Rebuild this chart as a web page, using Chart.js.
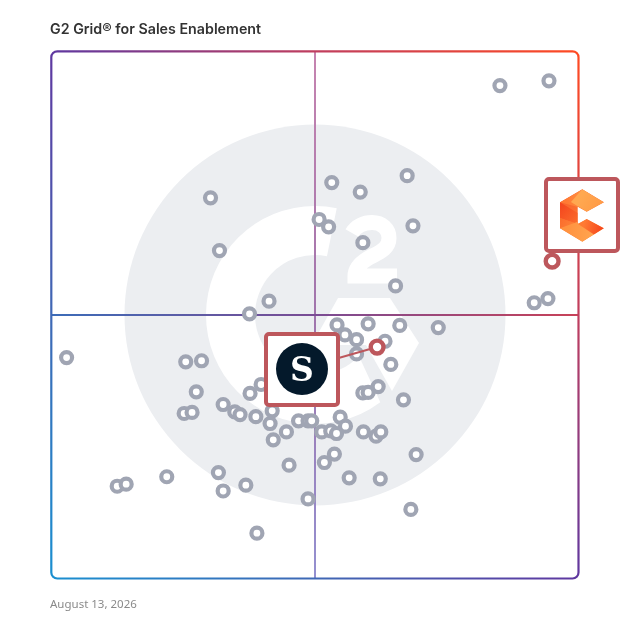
<!DOCTYPE html>
<html>
<head>
<meta charset="utf-8">
<style>
html,body{margin:0;padding:0;background:#fff;width:628px;height:628px;overflow:hidden}
#wrap{position:absolute;left:0;top:0;width:628px;height:628px}
#title{position:absolute;left:50px;top:20px;font:600 14.25px Inter,sans-serif;color:#333;white-space:nowrap}
#date{position:absolute;left:50px;top:596px;font:400 11.5px "Noto Sans",sans-serif;color:#8a8a8a;white-space:nowrap}
</style>
<script src="https://cdn.jsdelivr.net/npm/chart.js@4"></script>
</head>
<body>
<div id="wrap"><canvas id="c" width="628" height="628"></canvas></div>
<div id="title">G2 Grid® for Sales Enablement</div>
<div id="date">August 13, 2026</div>
<script>
const titleText = "G2 Grid® for Sales Enablement";
const dateText = "August 13, 2026";
const satisfaction = [30.2,31.9,41.3,37.6,85.1,94.4,53.2,58.6,67.5,50.8,52.6,68.6,59.1,65.3,91.6,94.2,2.9,25.5,28.5,27.5,25.2,26.7,32.6,34.8,35.8,38.8,37.7,39.8,41.9,41.5,44.6,42.1,46.9,48.7,49.4,45.1,12.5,14.2,21.9,31.7,32.6,36.9,39.0,48.7,54.2,55.7,57.9,60.1,66.1,73.4,63.3,57.9,64.4,59.1,60.1,62.0,66.8,54.8,55.8,51.3,53.0,54.1,59.2,61.6,62.5,69.2,53.7,51.8,56.5,62.4,68.2];
const marketPresence = [72.2,62.2,52.6,50.2,93.5,94.4,75.1,73.3,76.4,68.1,66.7,66.9,63.7,55.5,52.3,53.1,41.9,41.1,41.3,35.4,31.3,31.5,33.0,31.6,31.1,30.7,35.1,36.8,31.8,29.4,27.8,26.3,29.9,29.9,29.9,21.5,17.5,17.9,19.3,20.1,16.6,17.7,8.6,15.1,48.1,46.2,45.3,48.3,48.0,47.6,45.0,42.6,40.6,35.2,35.3,36.4,33.9,30.6,28.9,27.8,28.0,27.5,27.8,27.0,27.8,23.5,23.6,22.0,19.1,18.9,13.1];
const highlightX = [95.0,61.8];
const highlightY = [60.2,43.9];
const axisMin = 0, axisMax = 100, axisMid = 50;

const RED = '#bd575c', GRAY = '#a0a5b3', WM = '#eceef1';
const rad = d => d * Math.PI / 180;

function poly(ctx, pts){ ctx.beginPath(); pts.forEach((p,i)=> i?ctx.lineTo(p[0],p[1]):ctx.moveTo(p[0],p[1])); ctx.closePath(); }

function drawWatermark(ctx){
  const cx = 315, cy = 315;
  ctx.save();
  ctx.fillStyle = WM;
  ctx.beginPath(); ctx.arc(cx,cy,190.5,0,Math.PI*2); ctx.fill();
  ctx.fillStyle = '#fff';
  ctx.beginPath();
  ctx.arc(cx,cy,109,rad(-78.5),rad(53.2),true);
  ctx.arc(cx,cy,60,rad(43),rad(-78.5),false);
  ctx.closePath(); ctx.fill();
  poly(ctx,[[338,298],[390,298],[419,343],[392,391],[366,345],[311.6,345]]); ctx.fill();
  ctx.strokeStyle = '#fff'; ctx.lineWidth = 15; ctx.lineJoin = 'miter';
  ctx.beginPath();
  ctx.moveTo(352,233);
  ctx.bezierCurveTo(356,226,364,222.5,372,222.5);
  ctx.bezierCurveTo(382,222.5,389,229,389,238);
  ctx.bezierCurveTo(389,250,377,253,367,259);
  ctx.bezierCurveTo(359,264,355,270,355,276);
  ctx.lineTo(397,276);
  ctx.stroke();
  ctx.restore();
}

function frameGradient(ctx, a){
  const g = ctx.createLinearGradient(a.left,a.bottom,a.right,a.top);
  g.addColorStop(0,'#1a8fd0');
  g.addColorStop(.25,'#3f68b5');
  g.addColorStop(.5,'#5f38a0');
  g.addColorStop(.75,'#c03e5e');
  g.addColorStop(1,'#ff4a22');
  return g;
}

function box(ctx,x,y,w,h){
  ctx.beginPath(); ctx.roundRect(x,y,w,h,3);
  ctx.fillStyle = '#fff'; ctx.fill();
  ctx.lineWidth = 4; ctx.strokeStyle = RED; ctx.stroke();
}

function drawCLogo(ctx){
  const shape = [[582.3,189.3],[604,202.3],[586.7,211.7],[577.7,206.7],[577.7,224],[586.7,219],[604,228.3],[582.3,241.7],[560,228.3],[560,202.3]];
  ctx.save();
  poly(ctx,shape); ctx.clip();
  const lin = (x0,y0,x1,y1,c0,c1)=>{ const g=ctx.createLinearGradient(x0,y0,x1,y1); g.addColorStop(0,c0); g.addColorStop(1,c1); return g; };
  const f = (c,p)=>{ ctx.fillStyle=c; poly(ctx,p); ctx.fill(); };
  ctx.fillStyle = lin(560,200,582,240,'#f8602a','#ff8a3c'); ctx.fillRect(555,185,55,60);
  f(lin(566,200,590,192,'#ff7a34','#ff9a48'),[[560,202.3],[582.3,189.3],[590,194],[578,207]]);
  f(lin(584,192,604,204,'#ffa850','#ff9a45'),[[582.3,189.3],[604,202.3],[586.7,211.7],[571,202]]);
  f(lin(560,205,578,222,'#f4461e','#fb6c2c'),[[560,202.3],[577.7,213],[577.7,224],[560,218]]);
  f(lin(560,222,578,232,'#fb6e2d','#ff8a3c'),[[560,218],[577.7,224],[578,232],[560,228.3]]);
  f(lin(566,232,592,236,'#ff923f','#ffa44e'),[[560,228.3],[577,222],[596,233],[582.3,241.7]]);
  f(lin(584,224,604,229,'#ff7a33','#f5431c'),[[586.7,219],[604,228.3],[594,234.5],[578,224]]);
  ctx.restore();
}

const overlay = {
  id:'overlay',
  beforeDraw(chart){ drawWatermark(chart.ctx); },
  beforeDatasetsDraw(chart){
    const ctx = chart.ctx, a = chart.chartArea;
    ctx.save();
    ctx.lineWidth = 2.2; ctx.strokeStyle = frameGradient(ctx,a);
    ctx.beginPath(); ctx.roundRect(a.left,a.top,a.right-a.left,a.bottom-a.top,6); ctx.stroke();
    ctx.restore();
  },
  afterDatasetDraw(chart,args){
    if(args.index!==1) return;
    const ctx = chart.ctx, xs = chart.scales.x, ys = chart.scales.y;
    ctx.save();
    ctx.strokeStyle = RED; ctx.lineWidth = 2;
    ctx.beginPath(); ctx.moveTo(336,358.8); ctx.lineTo(xs.getPixelForValue(highlightX[1]),ys.getPixelForValue(highlightY[1])); ctx.stroke();
    box(ctx,266,334,72,71);
    ctx.fillStyle = '#04192b'; ctx.beginPath(); ctx.arc(302,369,26,0,Math.PI*2); ctx.fill();
    ctx.fillStyle = '#fff'; ctx.font = 'bold 33px "DejaVu Serif"'; ctx.textAlign='center'; ctx.textBaseline='alphabetic';
    ctx.fillText('S',302,381);
    box(ctx,546,179,72,72);
    drawCLogo(ctx);
    ctx.restore();
  }
};

const centerColor = axis => ctx => {
  if(ctx.tick.value!==axisMid) return 'rgba(0,0,0,0)';
  const c = ctx.chart.ctx, a = ctx.chart.chartArea;
  if(axis==='x'){
    const g = c.createLinearGradient(0,a.top,0,a.bottom);
    g.addColorStop(0,'#c684b0'); g.addColorStop(.5,'#a074ac'); g.addColorStop(1,'#9490d0');
    return g;
  }
  const g = c.createLinearGradient(a.left,0,a.right,0);
  g.addColorStop(0,'#3c6cb8'); g.addColorStop(.5,'#7a4c94'); g.addColorStop(1,'#c84258');
  return g;
};
const axisOpts = axis => ({
  type:'linear', min:axisMin, max:axisMax,
  ticks:{display:false,stepSize:axisMid},
  border:{display:false},
  grid:{color:centerColor(axis),lineWidth:2,drawTicks:false}
});

new Chart(document.getElementById('c'),{
  type:'scatter',
  data:{datasets:[
    {label:'Highlighted',data:highlightX.map((x,i)=>({x,y:highlightY[i]})),pointRadius:6.4,pointHoverRadius:6.4,pointBorderWidth:4.4,pointBorderColor:RED,pointBackgroundColor:'#fff',clip:false},
    {label:'Products',data:satisfaction.map((x,i)=>({x,y:marketPresence[i]})),pointRadius:5.5,pointHoverRadius:5.5,pointBorderWidth:4.2,pointBorderColor:GRAY,pointBackgroundColor:'#fff',clip:false}
  ]},
  options:{
    responsive:false,animation:false,devicePixelRatio:1,
    layout:{padding:{left:51.3,right:49.5,top:51.3,bottom:49.5}},
    plugins:{legend:{display:false},title:{display:false},tooltip:{enabled:false}},
    scales:{x:axisOpts('x'),y:axisOpts('y')}
  },
  plugins:[overlay]
});
</script>
</body>
</html>
